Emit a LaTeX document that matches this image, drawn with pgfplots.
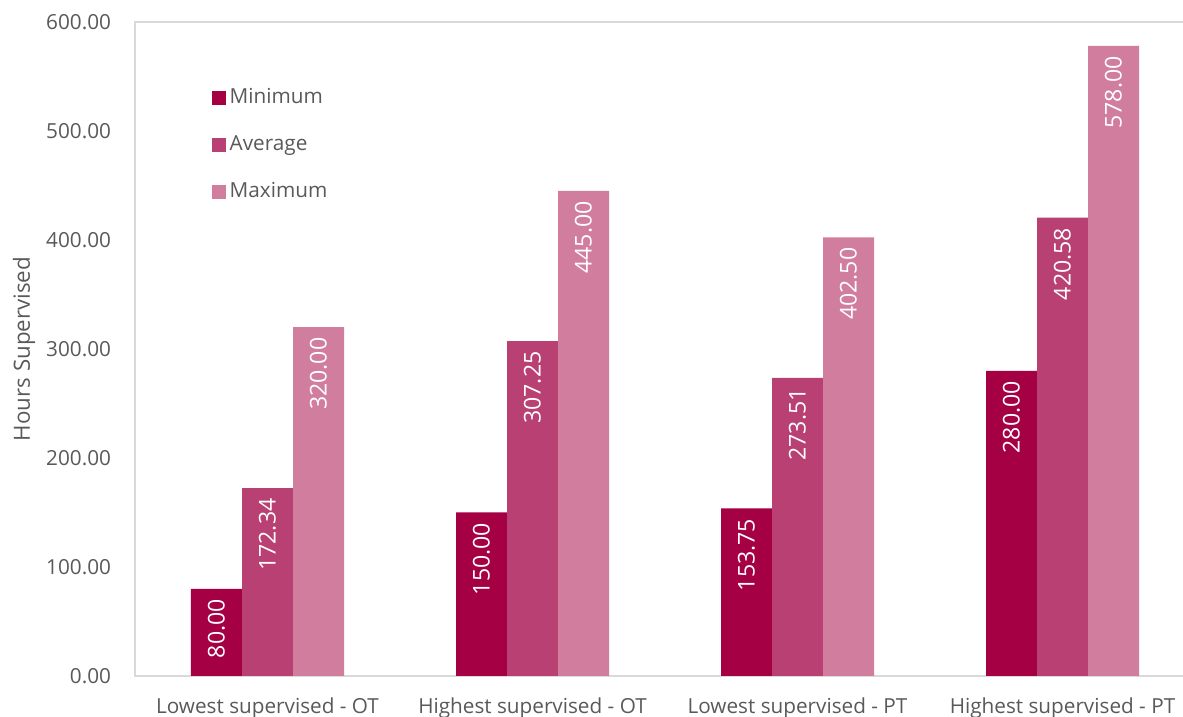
\documentclass[border=0pt]{standalone}
\usepackage{fontspec}
\setmainfont{Open Sans}
\usepackage{pgfplots}
\pgfplotsset{compat=1.18}
\definecolor{cmin}{HTML}{A50044}
\definecolor{cavg}{HTML}{B94072}
\definecolor{cmax}{HTML}{D17E9E}
\definecolor{txt}{HTML}{595959}
\definecolor{grid}{HTML}{D9D9D9}
\begin{document}
\begin{tikzpicture}[font=\fontsize{10.4}{12}\selectfont]
\useasboundingbox (-67.5bp,-20.5bp) rectangle (524bp,338bp);
\begin{axis}[
    at={(0,0)}, anchor=south west,
    scale only axis,
    width=530bp, height=327bp,
    ybar=0pt, bar width=25.5bp,
    xmin=-0.5, xmax=3.5,
    ymin=0, ymax=600,
    xtick={0,1,2,3},
    xticklabels={Lowest supervised - OT, Highest supervised - OT, Lowest supervised - PT, Highest supervised - PT},
    ytick={0,100,...,600},
    axis line style={grid, line width=0.8pt},
    tick style={draw=none},
    ticklabel style={text=txt},
    xticklabel style={yshift=-3bp},
    yticklabel style={xshift=-8.5bp, /pgf/number format/.cd, fixed, fixed zerofill, precision=2, assume math mode=true, /tikz/.cd},
    ylabel={Hours Supervised},
    every axis y label/.style={at={(axis description cs:0,0.5)}, xshift=-55.5bp, rotate=90, anchor=center, text=txt, font=\fontsize{11.2}{13}\selectfont},
    nodes near coords,
    nodes near coords style={/pgf/number format/.cd, fixed, fixed zerofill, precision=2, assume math mode=true, /tikz/.cd},
    every node near coord/.append style={rotate=90, anchor=east, text=white, inner sep=5bp, font=\fontsize{11.6}{13}\selectfont},
    legend style={draw=none, fill=none, at={(0.072,0.905)}, anchor=north west, text=txt, row sep=10.5bp, inner sep=0pt, cells={anchor=west}},
    legend image code/.code={\fill (0bp,-3.5bp) rectangle (7bp,3.5bp);},
]
\addplot[fill=cmin, draw=none] coordinates {(0,80) (1,150) (2,153.75) (3,280)};
\addplot[fill=cavg, draw=none] coordinates {(0,172.34) (1,307.25) (2,273.51) (3,420.58)};
\addplot[fill=cmax, draw=none] coordinates {(0,320) (1,445) (2,402.50) (3,578)};
\legend{Minimum, Average, Maximum}
\end{axis}
\end{tikzpicture}
\end{document}
